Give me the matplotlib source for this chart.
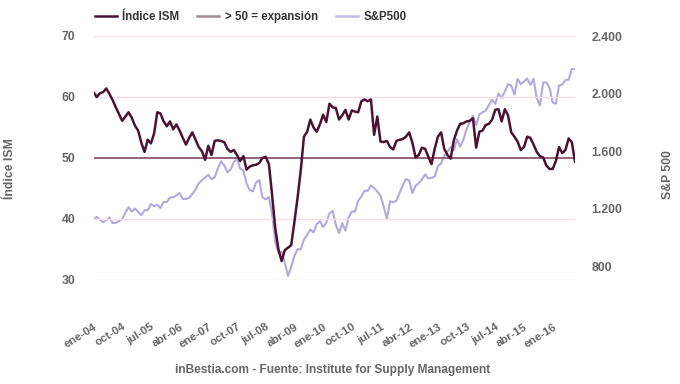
import numpy as np
import matplotlib
matplotlib.use('Agg')
import matplotlib.pyplot as plt
from matplotlib.lines import Line2D
from matplotlib.ticker import FuncFormatter

plt.rcParams['font.family'] = ['Liberation Sans', 'DejaVu Sans']

# monthly, ene-04 .. ago-16
ism = [
    60.8, 60.0, 60.6, 60.8, 61.4, 60.5, 59.5, 58.3, 57.2, 56.1, 56.8, 57.5,   # 2004
    56.6, 55.3, 54.5, 52.5, 51.0, 53.0, 52.4, 54.0, 57.5, 57.3, 56.0, 55.2,   # 2005
    56.0, 54.7, 55.5, 54.5, 53.3, 52.2, 53.3, 54.2, 53.0, 51.8, 51.1, 49.7,   # 2006
    52.0, 50.5, 52.8, 52.9, 52.8, 52.6, 51.5, 51.0, 51.3, 50.5, 49.5, 50.3,   # 2007
    48.1, 48.6, 48.8, 48.9, 49.2, 50.0, 50.2, 49.0, 44.0, 38.5, 35.0, 33.1,   # 2008
    34.9, 35.3, 35.7, 39.5, 43.5, 48.0, 53.5, 54.3, 56.3, 55.0, 54.3, 55.5,   # 2009
    57.1, 55.9, 58.9, 58.3, 58.2, 56.3, 57.0, 57.9, 56.3, 57.8, 57.6, 57.5,   # 2010
    59.3, 59.6, 59.3, 59.6, 53.8, 56.8, 52.7, 52.6, 52.8, 51.8, 51.4, 52.8,   # 2011
    53.0, 53.1, 53.5, 54.2, 52.5, 50.1, 50.5, 51.7, 51.5, 50.2, 49.0, 51.5,   # 2012
    53.5, 54.2, 51.5, 50.5, 49.9, 52.9, 54.5, 55.6, 55.7, 56.0, 56.1, 56.5,   # 2013
    51.7, 54.3, 54.5, 55.4, 55.6, 56.3, 57.9, 58.0, 56.0, 58.0, 57.0, 54.2,   # 2014
    53.5, 52.7, 51.3, 51.8, 53.5, 53.3, 52.2, 51.0, 50.3, 50.1, 48.8, 48.2,   # 2015
    48.2, 49.5, 51.8, 50.8, 51.3, 53.2, 52.6, 49.4,                           # 2016
]

sp500 = [
    1131.13, 1144.94, 1126.21, 1107.30, 1120.68, 1140.84, 1101.72, 1104.24, 1114.58, 1130.20, 1173.82, 1211.92,
    1181.27, 1203.60, 1180.59, 1156.85, 1191.50, 1191.33, 1234.18, 1220.33, 1228.81, 1207.01, 1249.48, 1248.29,
    1280.08, 1280.66, 1294.83, 1310.61, 1270.09, 1270.20, 1276.66, 1303.82, 1335.85, 1377.94, 1400.63, 1418.30,
    1438.24, 1406.82, 1420.86, 1482.37, 1530.62, 1503.35, 1455.27, 1473.99, 1526.75, 1549.38, 1481.14, 1468.36,
    1378.55, 1330.63, 1322.70, 1385.59, 1400.38, 1280.00, 1267.38, 1282.83, 1166.36, 968.75, 896.24, 903.25,
    825.88, 735.09, 797.87, 872.81, 919.14, 919.32, 987.48, 1020.62, 1057.08, 1036.19, 1095.63, 1115.10,
    1073.87, 1104.49, 1169.43, 1186.69, 1089.41, 1030.71, 1101.60, 1049.33, 1141.20, 1183.26, 1180.55, 1257.64,
    1286.12, 1327.22, 1325.83, 1363.61, 1345.20, 1320.64, 1292.28, 1218.89, 1131.42, 1253.30, 1246.96, 1257.60,
    1312.41, 1365.68, 1408.47, 1397.91, 1310.33, 1362.16, 1379.32, 1406.58, 1440.67, 1412.16, 1416.18, 1426.19,
    1498.11, 1514.68, 1569.19, 1597.57, 1630.74, 1606.28, 1685.73, 1632.97, 1681.55, 1756.54, 1805.81, 1848.36,
    1782.59, 1859.45, 1872.34, 1883.95, 1923.57, 1960.23, 1930.67, 2003.37, 1972.29, 2018.05, 2067.56, 2058.90,
    1994.99, 2104.50, 2067.89, 2085.51, 2107.39, 2063.11, 2103.84, 1972.18, 1920.03, 2079.36, 2080.41, 2043.94,
    1940.24, 1932.23, 2059.74, 2065.30, 2096.95, 2098.86, 2173.60, 2170.95,
]

meses = ['ene', 'feb', 'mar', 'abr', 'may', 'jun', 'jul', 'ago', 'sep', 'oct', 'nov', 'dic']
etiquetas = [f'{meses[i % 12]}-{(4 + i // 12):02d}' for i in range(len(ism))]
umbral = 50

c_ism = '#4b1232'
c_umbral = '#74405c'
c_sp = '#b3a8dc'
c_grid = '#f3dfe5'
c_txt = '#666666'

x = np.arange(len(ism))

fig = plt.figure(figsize=(6.8, 3.84), dpi=100)
ax = fig.add_axes([93.5 / 680, 104 / 384, 481.5 / 680, 244 / 384])
ax2 = ax.twinx()
ax.set_zorder(ax2.get_zorder() + 1)
ax.patch.set_visible(False)

ax2.plot(x, sp500, color=c_sp, lw=1.5, solid_joinstyle='round')
ax.axhline(umbral, color=c_umbral, lw=1.1, zorder=2)
ax.plot(x, ism, color=c_ism, lw=1.8, solid_joinstyle='round', zorder=3)

ax.set_xlim(0, len(ism) - 1)
ax.set_ylim(30, 70)
ax.set_yticks([30, 40, 50, 60, 70])
ax2.set_ylim(706, 2403)
ax2.set_yticks([800, 1200, 1600, 2000, 2400])
ax2.yaxis.set_major_formatter(FuncFormatter(lambda v, p: f'{int(v):,}'.replace(',', '.')))

ax.grid(axis='y', color=c_grid, lw=1, zorder=0)
ax.set_axisbelow(True)
for a in (ax, ax2):
    for s in a.spines.values():
        s.set_visible(False)
    a.tick_params(length=0)

ax.set_xticks(x[::9])
ax.set_xticklabels(etiquetas[::9], rotation=32, ha='right', va='top',
                   rotation_mode='anchor', fontsize=8.2, color=c_txt, fontweight='bold')
ax.tick_params(axis='x', pad=30)
ax.tick_params(axis='y', pad=13, labelsize=8.8, labelcolor=c_txt)
ax2.tick_params(axis='y', pad=12, labelsize=8.8, labelcolor=c_txt)
for t in ax.get_yticklabels() + ax2.get_yticklabels():
    t.set_fontweight('bold')

fig.text(10 / 680, 1 - 169 / 384, 'Índice ISM', rotation=90, ha='center', va='center',
         fontsize=8.8, fontweight='bold', color=c_txt)
fig.text(668 / 680, 1 - 175 / 384, 'S&P 500', rotation=90, ha='center', va='center',
         fontsize=8.8, fontweight='bold', color=c_txt)
fig.text(333 / 680, 1 - 370 / 384, 'inBestia.com - Fuente: Institute for Supply Management',
         ha='center', va='center', fontsize=8.6, fontweight='bold', color=c_txt)

handles = [Line2D([], [], color=c_ism, lw=1.8),
           Line2D([], [], color='#a08a97', lw=1.8),
           Line2D([], [], color='#c4bce4', lw=1.8)]
fig.legend(handles, ['Índice ISM', '> 50 = expansión', 'S&P500'], loc='upper left',
           bbox_to_anchor=(89 / 680, 1 - 5 / 384), ncol=3, frameon=False, borderpad=0,
           handlelength=1.9, handletextpad=0.45, columnspacing=1.6,
           prop={'size': 8.3, 'weight': 'bold'}, labelcolor='#333333')

fig.savefig('out.png', dpi=100)
plt.close()
